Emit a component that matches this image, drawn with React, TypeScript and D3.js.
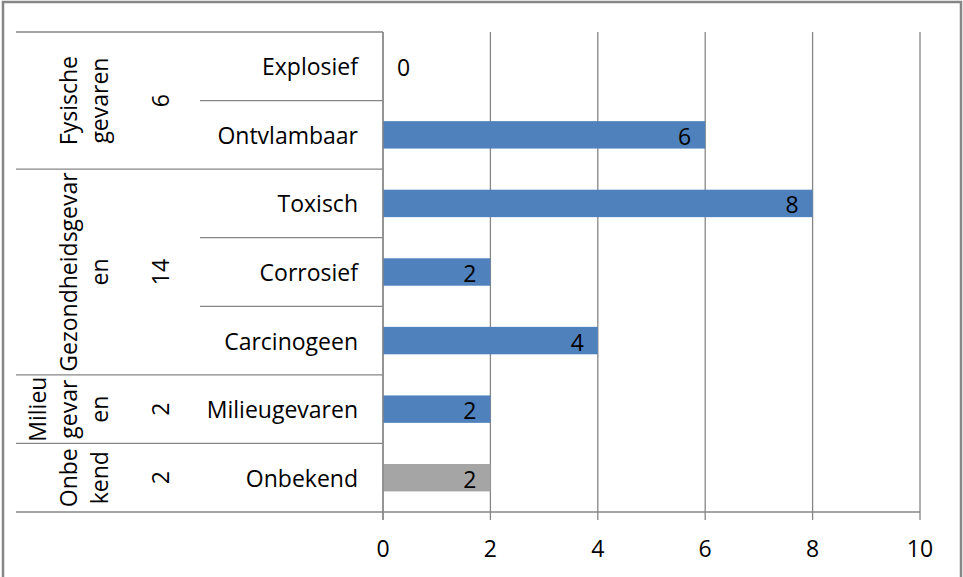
import React from "react";
import * as d3 from "d3";

const categories = ["Explosief", "Ontvlambaar", "Toxisch", "Corrosief", "Carcinogeen", "Milieugevaren", "Onbekend"];
const values = [0, 6, 8, 2, 4, 2, 2];
const groupLabels = [["Fysische", "gevaren"], ["Gezondheidsgevar", "en"], ["Milieu", "gevar", "en"], ["Onbe", "kend"]];
const groupSizes = [2, 3, 1, 1];
const groupTotals = [6, 14, 2, 2];
const xTicks = [0, 2, 4, 6, 8, 10];
const grayCategory = "Onbekend";

const W = 963;
const H = 577;
const FONT = "'Open Sans', sans-serif";
const GRID = "#868686";
const FS = 23;

export default function App() {
  const x = d3.scaleLinear().domain([0, 10]).range([383, 920]);
  const rows = d3.scaleBand<string>().domain(categories).range([32, 512]);
  const bars = d3.scaleBand<string>().domain(categories).range([32, 512]).paddingInner(0.6).paddingOuter(0.3);
  const step = rows.step();

  let acc = 0;
  const groups = groupSizes.map((n, i) => {
    const start = acc;
    acc += n;
    const y0 = rows(categories[start])!;
    const y1 = y0 + n * step;
    return { start, n, y0, y1, labels: groupLabels[i], total: groupTotals[i] };
  });

  const lineStep = 31;
  const lastLineX = 99;

  return (
    <svg width={W} height={H} style={{ position: "absolute", left: 0, top: 0, background: "#fff" }} fontFamily={FONT}>
      <rect x={0} y={0} width={W} height={H} fill="#fff" />
      {xTicks.map((t) => (
        <line key={"g" + t} x1={x(t)} x2={x(t)} y1={32} y2={520} stroke={GRID} strokeWidth={1.3} />
      ))}
      <line x1={16} x2={x(10)} y1={512} y2={512} stroke={GRID} strokeWidth={1.3} />
      <line x1={16} x2={x(0)} y1={32} y2={32} stroke={GRID} strokeWidth={1.3} />
      {categories.slice(0, -1).map((c, i) => {
        const yb = rows(c)! + step;
        const isGroupEnd = groups.some((g) => g.start + g.n - 1 === i);
        return (
          <line key={"d" + c} x1={isGroupEnd ? 16 : 200} x2={x(0)} y1={yb} y2={yb} stroke={GRID} strokeWidth={1.3} />
        );
      })}
      {categories.map((c, i) => (
        <rect
          key={"b" + c}
          x={x(0)}
          y={bars(c)!}
          width={x(values[i]) - x(0)}
          height={bars.bandwidth()}
          fill={c === grayCategory ? "#A5A5A5" : "#4F81BD"}
        />
      ))}
      {categories.map((c, i) => {
        const v = values[i];
        const cy = bars(c)! + bars.bandwidth() / 2 + 1;
        return (
          <text
            key={"v" + c}
            x={v > 0 ? x(v) - 14 : x(0) + 14}
            y={cy}
            textAnchor={v > 0 ? "end" : "start"}
            dominantBaseline="central"
            fontSize={FS}
            fill="#000"
          >
            {v}
          </text>
        );
      })}
      <line x1={x(0)} x2={x(0)} y1={32} y2={520} stroke={GRID} strokeWidth={1.3} />
      {categories.map((c) => (
        <text
          key={"c" + c}
          x={358}
          y={rows(c)! + step / 2}
          textAnchor="end"
          dominantBaseline="central"
          fontSize={FS}
          fill="#000"
        >
          {c}
        </text>
      ))}
      {groups.map((g, gi) => {
        const cy = (g.y0 + g.y1) / 2;
        const n = g.labels.length;
        return (
          <g key={"gr" + gi}>
            {g.labels.map((l, li) => {
              const cx = lastLineX - (n - 1 - li) * lineStep;
              return (
                <text
                  key={li}
                  transform={`translate(${cx},${cy}) rotate(-90)`}
                  textAnchor="middle"
                  dominantBaseline="central"
                  fontSize={FS}
                  fill="#000"
                >
                  {l}
                </text>
              );
            })}
            <text
              transform={`translate(160,${cy}) rotate(-90)`}
              textAnchor="middle"
              dominantBaseline="central"
              fontSize={FS}
              fill="#000"
            >
              {g.total}
            </text>
          </g>
        );
      })}
      {xTicks.map((t) => (
        <text key={"t" + t} x={x(t)} y={548} textAnchor="middle" dominantBaseline="central" fontSize={FS} fill="#000">
          {t}
        </text>
      ))}
      <rect x={3} y={2} width={958} height={580} fill="none" stroke={GRID} strokeWidth={2.5} />
    </svg>
  );
}
